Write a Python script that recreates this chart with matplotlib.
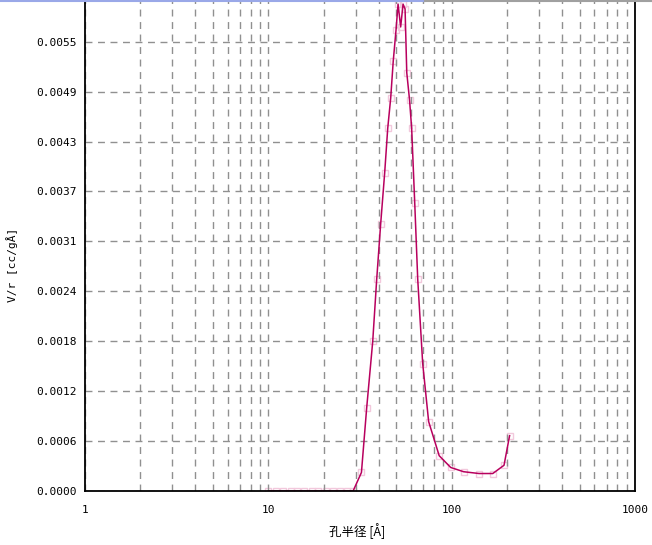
import matplotlib
matplotlib.use("Agg")
import matplotlib.pyplot as plt
from matplotlib.ticker import FixedLocator, NullFormatter, FuncFormatter
from matplotlib.lines import Line2D
import numpy as np

# pore radius [A] and V/r [cc/gA]
radius = [10.0, 11.0, 12.0, 13.3, 14.3, 15.6, 17.3, 18.7, 20.6, 22.5, 24.6, 26.9, 29.0,
          32.2, 34.4, 37.1, 39.0, 41.0, 43.1, 44.8, 46.5, 48.0, 49.7, 51.0, 52.7,
          54.3, 55.7, 56.9, 58.9, 60.5, 62.9, 65.3, 69.5, 74.9, 85.5, 98.8, 116.2,
          141.0, 167.6, 193.0, 207.0]
dvr = [0, 0, 0, 0, 0, 0, 0, 0, 0, 0, 0, 0, 0,
       0.000227, 0.00102, 0.00183, 0.00259, 0.00327, 0.00389, 0.00444, 0.00481,
       0.00526, 0.00564, 0.00596, 0.00568, 0.00596, 0.00590, 0.00512, 0.00479,
       0.00444, 0.00352, 0.00259, 0.00156, 0.000849, 0.000432, 0.000288, 0.000236,
       0.000214, 0.000214, 0.000315, 0.000677]

ystep = 0.000611
yticks = [k * ystep for k in range(10)]
xticks = [1, 10, 100, 1000]

fig = plt.figure(figsize=(6.52, 5.45), dpi=100)
ax = fig.add_axes([85/652, 54/545, 550/652, 491/545])

ax.plot(radius, dvr, ls='none', marker='s', ms=5, mfc='none', mec='#f2c8dc', mew=1, zorder=1.5)
ax.plot(radius, dvr, color='#b8005e', lw=1.1, zorder=2)

ax.set_xscale('log')
ax.set_xlim(1, 1000)
ax.set_ylim(0, 0.00601)
ax.xaxis.set_major_locator(FixedLocator(xticks))
minors = [m * 10**d for d in range(3) for m in range(2, 10)]
ax.xaxis.set_minor_locator(FixedLocator(minors))
ax.xaxis.set_minor_formatter(NullFormatter())
ax.xaxis.set_major_formatter(FuncFormatter(lambda v, p: '%d' % v))
ax.set_yticks(yticks)
ax.yaxis.set_major_formatter(FuncFormatter(lambda v, p: '%.4f' % v))

grid_kw = dict(color='#909090', ls=(0, (5, 4)), lw=1)
ax.grid(True, which='both', axis='x', **grid_kw)
ax.grid(True, which='major', axis='y', **grid_kw)
ax.tick_params(which='both', length=0, labelsize=8)
ax.tick_params(axis='y', pad=6)
ax.tick_params(axis='x', pad=10)
for lab in ax.get_xticklabels() + ax.get_yticklabels():
    lab.set_family('DejaVu Sans Mono')

ax.spines['top'].set_visible(False)
for s in ['left', 'right', 'bottom']:
    ax.spines[s].set_linewidth(1.3)

cjk = ['Noto Sans CJK JP', 'DejaVu Sans']
ax.set_xlabel('孔半径 [Å]', family=cjk, fontsize=9)
ax.xaxis.set_label_coords(0.495, -0.066)
ax.set_ylabel('V/r [cc/gÅ]', family='DejaVu Sans Mono', fontsize=8)
ax.yaxis.set_label_coords(-0.122, 0.46)

# window border at top
fig.add_artist(Line2D([0, 425/652], [1 - 0.5/545, 1 - 0.5/545], color='#9aa8e8', lw=1.5))
fig.add_artist(Line2D([425/652, 1], [1 - 0.5/545, 1 - 0.5/545], color='#a0a0a0', lw=1.5))

fig.savefig('out.png', dpi=100)
